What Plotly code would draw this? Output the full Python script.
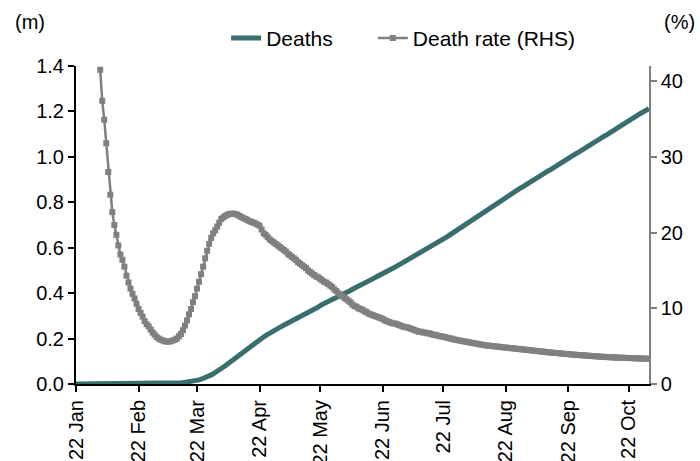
import pandas as pd
import plotly.graph_objects as go

# ---- data ----
start_date = "2020-01-22"

# Global deaths, millions, daily from 22 Jan 2020
deaths_m = [
    0.000, 0.000, 0.000, 0.000, 0.000, 0.000, 0.000, 0.000, 0.000, 0.000,
    0.000, 0.000, 0.000, 0.001, 0.001, 0.001, 0.001, 0.001, 0.001, 0.001,
    0.001, 0.001, 0.001, 0.001, 0.002, 0.002, 0.002, 0.002, 0.002, 0.002,
    0.002, 0.002, 0.002, 0.002, 0.003, 0.003, 0.003, 0.003, 0.003, 0.003,
    0.003, 0.003, 0.003, 0.003, 0.003, 0.003, 0.004, 0.004, 0.004, 0.004,
    0.005, 0.005, 0.005, 0.006, 0.007, 0.007, 0.008, 0.009, 0.011, 0.013,
    0.016, 0.018, 0.021, 0.024, 0.027, 0.031, 0.035, 0.040, 0.045, 0.050,
    0.056, 0.062, 0.068, 0.074, 0.080, 0.087, 0.094, 0.101, 0.108, 0.115,
    0.122, 0.129, 0.137, 0.144, 0.151, 0.158, 0.164, 0.170, 0.177, 0.183,
    0.189, 0.195, 0.201, 0.207, 0.213, 0.219, 0.224, 0.229, 0.234, 0.239,
    0.244, 0.249, 0.254, 0.259, 0.264, 0.269, 0.274, 0.279, 0.284, 0.289,
    0.294, 0.299, 0.303, 0.308, 0.312, 0.316, 0.320, 0.325, 0.329, 0.333,
    0.340, 0.345, 0.350, 0.354, 0.358, 0.363, 0.367, 0.372, 0.376, 0.381,
    0.385, 0.390, 0.394, 0.399, 0.403, 0.408, 0.412, 0.417, 0.421, 0.426,
    0.430, 0.435, 0.439, 0.444, 0.448, 0.453, 0.458, 0.462, 0.467, 0.472,
    0.476, 0.481, 0.486, 0.490, 0.495, 0.500, 0.505, 0.509, 0.514, 0.519,
    0.524, 0.529, 0.534, 0.538, 0.543, 0.548, 0.553, 0.558, 0.563, 0.568,
    0.573, 0.578, 0.583, 0.588, 0.593, 0.598, 0.603, 0.608, 0.614, 0.619,
    0.625, 0.631, 0.637, 0.643, 0.649, 0.655, 0.661, 0.667, 0.673, 0.679,
    0.685, 0.691, 0.697, 0.703, 0.709, 0.715, 0.721, 0.727, 0.733, 0.739,
    0.747, 0.753, 0.759, 0.765, 0.771, 0.777, 0.783, 0.789, 0.795, 0.800,
    0.806, 0.811, 0.817, 0.822, 0.828, 0.833, 0.839, 0.844, 0.850, 0.855,
    0.861, 0.866, 0.872, 0.877, 0.883, 0.888, 0.894, 0.899, 0.905, 0.910,
    0.916, 0.921, 0.927, 0.932, 0.938, 0.943, 0.949, 0.954, 0.960, 0.965,
    0.971, 0.976, 0.982, 0.987, 0.993, 0.998, 1.004, 1.009, 1.015, 1.020,
    1.026, 1.031, 1.037, 1.042, 1.048, 1.053, 1.059, 1.064, 1.070, 1.075,
    1.081, 1.086, 1.092, 1.097, 1.103, 1.108, 1.114, 1.119, 1.125, 1.130,
    1.136, 1.141, 1.147, 1.152, 1.158, 1.163, 1.169, 1.175, 1.181, 1.187,
    1.192, 1.197, 1.202, 1.207, 1.212,
]

# Death rate (%), daily from 3 Feb 2020 (earlier values are off the scale)
death_rate_pct = [
    41.5, 37.4, 34.9, 31.8, 28.0, 25.0, 22.7, 21.0, 19.7, 18.3,
    17.1, 16.4, 15.5, 14.3, 13.4, 12.6, 11.9, 11.3, 10.6, 9.9,
    9.4, 8.9, 8.3, 7.9, 7.6, 7.2, 6.8, 6.5, 6.2, 6.0,
    5.85, 5.75, 5.65, 5.6, 5.6, 5.65, 5.75, 5.85, 6.0, 6.3,
    6.6, 7.1, 7.7, 8.4, 9.2, 9.9, 10.8, 11.6, 12.6, 13.5,
    14.5, 15.5, 16.6, 17.6, 18.5, 19.3, 19.9, 20.3, 20.8, 21.3,
    21.8, 22.0, 22.2, 22.35, 22.45, 22.5, 22.5, 22.45, 22.35, 22.2,
    22.05, 21.9, 21.8, 21.65, 21.5, 21.4, 21.3, 21.2, 21.05, 20.9,
    20.4, 19.9, 19.7, 19.4, 19.1, 18.9, 18.7, 18.5, 18.3, 18.1,
    17.9, 17.7, 17.5, 17.2, 17.0, 16.8, 16.6, 16.4, 16.1, 15.9,
    15.7, 15.5, 15.3, 15.0, 14.8, 14.6, 14.4, 14.2, 14.1, 13.9,
    13.7, 13.5, 13.4, 13.2, 13.0, 12.8, 12.5, 12.3, 12.0, 11.8,
    11.6, 11.4, 11.2, 11.0, 10.8, 10.5, 10.3, 10.2, 10.0, 9.9,
    9.8, 9.6, 9.5, 9.3, 9.2, 9.1, 9.0, 8.9, 8.8, 8.7,
    8.6, 8.4, 8.3, 8.2, 8.1, 8.0, 8.0, 7.9, 7.8, 7.7,
    7.6, 7.5, 7.5, 7.4, 7.3, 7.2, 7.1, 7.0, 6.9, 6.9,
    6.8, 6.8, 6.7, 6.7, 6.6, 6.5, 6.5, 6.4, 6.35, 6.3,
    6.25, 6.2, 6.1, 6.05, 6.0, 5.9, 5.85, 5.8, 5.75, 5.7,
    5.65, 5.6, 5.55, 5.5, 5.45, 5.4, 5.35, 5.3, 5.25, 5.2,
    5.15, 5.1, 5.08, 5.05, 5.02, 4.99, 4.96, 4.93, 4.90, 4.87,
    4.84, 4.81, 4.78, 4.75, 4.72, 4.70, 4.67, 4.64, 4.61, 4.58,
    4.55, 4.52, 4.49, 4.46, 4.43, 4.40, 4.37, 4.34, 4.31, 4.28,
    4.25, 4.22, 4.19, 4.17, 4.14, 4.12, 4.09, 4.07, 4.04, 4.02,
    3.99, 3.97, 3.94, 3.92, 3.89, 3.87, 3.85, 3.83, 3.81, 3.79,
    3.77, 3.75, 3.73, 3.71, 3.69, 3.67, 3.65, 3.63, 3.61, 3.59,
    3.58, 3.56, 3.55, 3.53, 3.52, 3.50, 3.49, 3.48, 3.47, 3.46,
    3.45, 3.44, 3.43, 3.42, 3.41, 3.40, 3.39, 3.38, 3.37, 3.36,
    3.35, 3.34, 3.33,
]

tick_dates = ["2020-01-22", "2020-02-22", "2020-03-22", "2020-04-22", "2020-05-22",
              "2020-06-22", "2020-07-22", "2020-08-22", "2020-09-22", "2020-10-22"]
tick_labels = ["22 Jan", "22 Feb", "22 Mar", "22 Apr", "22 May",
               "22 Jun", "22 Jul", "22 Aug", "22 Sep", "22 Oct"]

dates = pd.date_range(start_date, periods=len(deaths_m), freq="D")
rate_dates = dates[len(dates) - len(death_rate_pct):]

TEAL = "#386E6E"
GREY = "#808080"
FONT = "Liberation Sans, Arial, sans-serif"
FS = 20

fig = go.Figure()
fig.add_trace(go.Scatter(
    x=dates, y=deaths_m, name="Deaths", mode="lines",
    line=dict(color=TEAL, width=5), yaxis="y", legend="legend",
))
fig.add_trace(go.Scatter(
    x=rate_dates, y=death_rate_pct, name="Death rate (RHS)", mode="lines+markers",
    line=dict(color=GREY, width=2.5),
    marker=dict(symbol="square", size=6, color=GREY, line=dict(width=0)),
    yaxis="y2", legend="legend2",
))

leg_common = dict(orientation="h", yanchor="middle", y=1.087, xanchor="left",
                  font=dict(size=21), bgcolor="rgba(0,0,0,0)", borderwidth=0)

fig.update_layout(
    width=700, height=461,
    template="none",
    paper_bgcolor="white", plot_bgcolor="white",
    font=dict(family=FONT, size=FS, color="black"),
    margin=dict(l=76, r=51, t=66, b=77, pad=0),
    showlegend=True,
    legend=dict(x=0.262, **leg_common),
    legend2=dict(x=0.518, **leg_common),
    xaxis=dict(
        type="date", range=[dates[0], dates[-1]],
        tickvals=tick_dates, ticktext=tick_labels, tickangle=-90,
        showgrid=False, zeroline=False, showline=True, linecolor="black", linewidth=2,
        ticks="outside", ticklen=6, tickwidth=2, tickcolor="black",
        automargin=False,
    ),
    yaxis=dict(
        range=[0, 1.4], dtick=0.2, tick0=0, tickformat=".1f",
        showgrid=False, zeroline=False, showline=True, linecolor="black", linewidth=2,
        ticks="outside", ticklen=6, tickwidth=2, tickcolor="black",
        automargin=False,
    ),
    yaxis2=dict(
        overlaying="y", side="right", range=[0, 42], tickvals=[0, 10, 20, 30, 40],
        showgrid=False, zeroline=False, showline=True, linecolor=GREY, linewidth=1.5,
        ticks="outside", ticklen=6, tickwidth=1.5, tickcolor=GREY,
        automargin=False,
    ),
    annotations=[
        dict(text="(m)", xref="paper", yref="paper", x=-0.080, y=1.138,
             xanchor="center", yanchor="middle", showarrow=False, font=dict(size=FS)),
        dict(text="(%)", xref="paper", yref="paper", x=1.054, y=1.138,
             xanchor="center", yanchor="middle", showarrow=False, font=dict(size=FS)),
    ],
)

fig.write_html("out.html", config={"displayModeBar": False},
               post_script="document.body.style.margin='0px';")
